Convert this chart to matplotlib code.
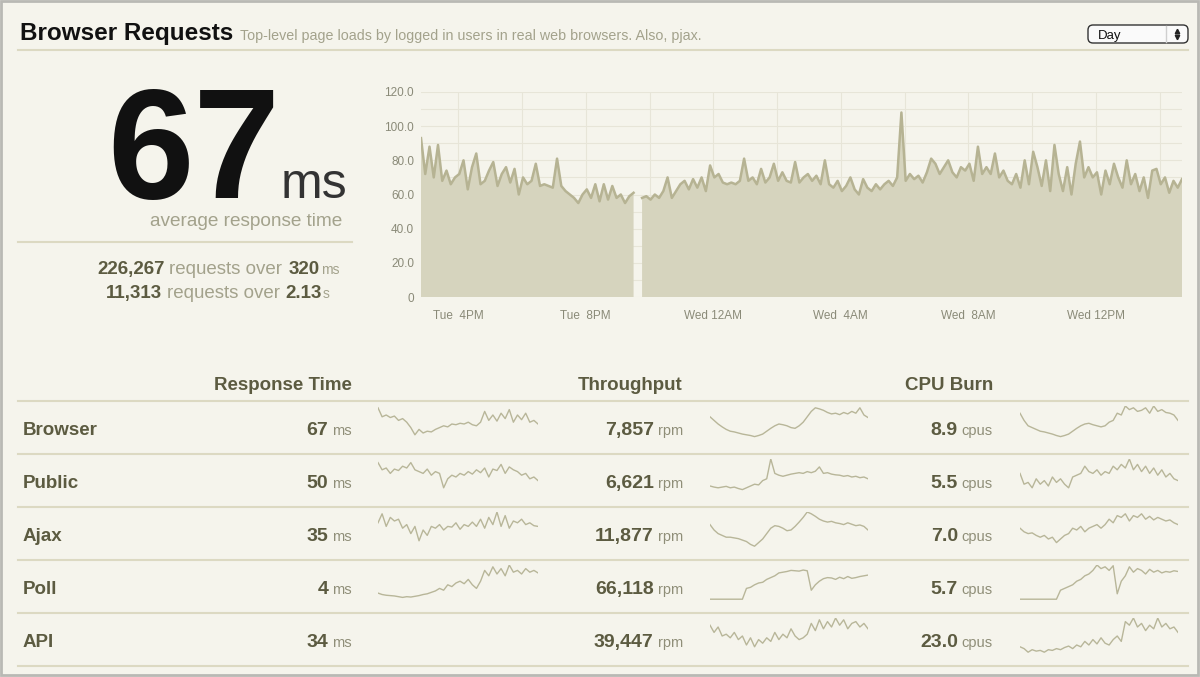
import numpy as np
import matplotlib.pyplot as plt
from matplotlib.patches import FancyBboxPatch, Rectangle

W, H = 1200, 677
BG = '#f5f4ec'
OLIVE = '#5c5b41'
UNIT = '#8f8e78'
SUB = '#a3a28c'
RULE = '#dcd9c2'
FILL = '#d6d4be'
LINE = '#b6b393'
SPARK = '#b8b699'

plt.rcParams['font.family'] = ['Liberation Sans', 'DejaVu Sans']

nan = float('nan')
# response time in ms, one value every 8 minutes from Tue 2:50PM to Wed 2:50PM
rt_day = [
    93, 72, 88, 70, 89, 68, 74, 66, 70, 72, 80, 63, 76, 84, 66,
    68, 74, 79, 65, 72, 76, 67, 75, 60, 70, 66, 68, 78, 65, 66,
    65, 64, 81, 65, 62, 60, 58, 55, 60, 63, 58, 66, 56, 66, 57,
    65, 58, 60, 55, 59, 61, nan, 58, 59, 57, 60, 58, 62, 70, 58,
    62, 66, 68, 63, 69, 64, 70, 62, 77, 70, 72, 67, 66, 67, 66,
    68, 81, 68, 70, 66, 75, 67, 70, 78, 68, 73, 68, 67, 79, 67,
    70, 72, 68, 71, 66, 80, 66, 64, 68, 62, 65, 70, 63, 60, 69,
    64, 62, 66, 63, 66, 68, 65, 70, 108, 68, 72, 69, 71, 67, 73,
    81, 78, 72, 76, 80, 73, 70, 76, 74, 78, 68, 88, 72, 76, 72,
    84, 70, 74, 68, 66, 72, 64, 80, 66, 85, 76, 65, 80, 62, 89,
    72, 62, 76, 60, 78, 91, 70, 76, 70, 73, 60, 74, 66, 78, 70,
    64, 80, 66, 72, 62, 70, 58, 74, 75, 66, 70, 61, 68, 64, 69,
]
start_hour = 14 + 50 / 60
step_hour = 8 / 60
hour_ticks = [16, 20, 24, 28, 32, 36]
hour_labels = ['Tue  4PM', 'Tue  8PM', 'Wed 12AM', 'Wed  4AM', 'Wed  8AM', 'Wed 12PM']
y_ticks = [0, 20, 40, 60, 80, 100, 120]
y_labels = ['0', '20.0', '40.0', '60.0', '80.0', '100.0', '120.0']

rows = ['Browser', 'Public', 'Ajax', 'Poll', 'API']
rt_ms = ['67', '50', '35', '4', '34']
tp_rpm = ['7,857', '6,621', '11,877', '66,118', '39,447']
cpu_used = ['8.9', '5.5', '7.0', '5.7', '23.0']

spark_rt = [
    [95, 70, 75, 68, 72, 60, 65, 55, 40, 20, 35, 25, 30, 28, 35, 40, 45, 42, 50, 48,
     52, 50, 55, 48, 45, 55, 85, 60, 75, 58, 80, 65, 90, 55, 75, 62, 80, 55, 60, 50],
    [90, 70, 75, 60, 72, 68, 80, 75, 90, 70, 65, 60, 72, 55, 65, 60, 20, 45, 55, 50,
     60, 55, 65, 58, 70, 62, 75, 50, 72, 68, 85, 60, 78, 70, 65, 55, 60, 45, 50, 40],
    [70, 95, 60, 85, 75, 80, 55, 65, 40, 60, 20, 50, 35, 60, 55, 65, 50, 60, 58, 70,
     52, 65, 60, 72, 60, 80, 55, 85, 65, 100, 60, 90, 55, 75, 70, 80, 65, 70, 62, 60],
    [22, 18, 16, 15, 14, 12, 10, 12, 11, 13, 15, 18, 20, 24, 28, 35, 30, 45, 40, 50,
     55, 48, 60, 45, 35, 55, 85, 70, 95, 75, 90, 70, 100, 80, 85, 75, 90, 80, 85, 78],
    None,
]
spark_tp = [
    [70, 60, 50, 42, 35, 30, 28, 25, 22, 20, 18, 15, 18, 22, 30, 38, 45, 50, 48, 45,
     40, 38, 45, 55, 70, 85, 95, 92, 88, 82, 78, 80, 76, 82, 78, 85, 80, 95, 75, 68],
    [25, 22, 20, 22, 24, 20, 22, 18, 15, 20, 25, 30, 28, 40, 45, 100, 60, 55, 52, 55,
     58, 60, 62, 60, 65, 62, 66, 78, 60, 62, 58, 56, 55, 52, 54, 50, 52, 48, 50, 45],
    [65, 50, 40, 35, 30, 30, 28, 26, 22, 18, 10, 5, 15, 25, 40, 55, 62, 60, 55, 48,
     50, 60, 72, 85, 100, 95, 88, 80, 75, 72, 74, 70, 68, 65, 70, 66, 62, 64, 60, 50],
    [5, 5, 5, 5, 5, 5, 5, 5, 5, 35, 38, 45, 50, 52, 60, 65, 70, 78, 80, 82,
     85, 84, 83, 86, 84, 30, 45, 55, 62, 65, 64, 60, 66, 62, 68, 63, 65, 68, 70, 72],
    [80, 60, 75, 50, 55, 45, 60, 40, 50, 25, 45, 20, 40, 30, 45, 35, 60, 40, 55, 45,
     70, 50, 40, 45, 55, 85, 65, 95, 70, 90, 75, 100, 80, 95, 70, 85, 90, 75, 85, 70],
]
spark_cpu = [
    [80, 60, 45, 40, 35, 30, 28, 25, 22, 18, 15, 18, 22, 30, 38, 45, 50, 52, 48, 45,
     42, 45, 55, 60, 80, 75, 100, 90, 95, 85, 88, 95, 80, 100, 85, 90, 82, 80, 75, 60],
    [60, 30, 35, 20, 45, 30, 40, 25, 50, 35, 45, 30, 20, 50, 55, 60, 80, 65, 60, 70,
     55, 65, 60, 80, 70, 85, 75, 100, 70, 85, 65, 80, 60, 75, 55, 70, 50, 60, 45, 40],
    [55, 45, 40, 42, 35, 30, 35, 25, 30, 15, 25, 35, 40, 55, 50, 60, 45, 55, 60, 65,
     55, 65, 80, 70, 90, 85, 95, 75, 90, 85, 95, 80, 88, 78, 85, 80, 75, 78, 70, 65],
    [5, 5, 5, 5, 5, 5, 5, 5, 5, 5, 30, 35, 40, 45, 55, 60, 70, 75, 85, 100,
     90, 95, 85, 98, 20, 55, 70, 95, 80, 90, 85, 75, 88, 80, 85, 78, 82, 80, 84, 82],
    [20, 15, 5, 12, 8, 10, 5, 12, 10, 15, 12, 18, 22, 15, 25, 20, 35, 25, 40, 28,
     45, 30, 25, 40, 50, 35, 90, 80, 100, 75, 85, 65, 80, 70, 100, 75, 85, 70, 75, 60],
]


def px(x0, y0, x1, y1):
    # pixel box (top-left origin) -> figure fraction rect
    return [x0 / W, 1 - y1 / H, (x1 - x0) / W, (y1 - y0) / H]


def right_chain(ax, x, y, pieces):
    # pieces listed left to right: (text, size, weight, color, gap_before_px)
    # the last piece ends at x, the others are hung to its left
    prev = None
    gap = 0
    for text, size, weight, color, gap_before in reversed(pieces):
        if prev is None:
            prev = ax.text(x, y, text, fontsize=size, fontweight=weight, color=color,
                           ha='right', va='baseline')
        else:
            prev = ax.annotate(text, xy=(0, y), xycoords=(prev, 'data'),
                               xytext=(-gap * 0.72, 0), textcoords='offset points',
                               fontsize=size, fontweight=weight, color=color,
                               ha='right', va='baseline')
        gap = gap_before
    return prev


fig = plt.figure(figsize=(W / 100, H / 100), dpi=100, facecolor=BG)
bg = fig.add_axes([0, 0, 1, 1])
bg.set_xlim(0, W)
bg.set_ylim(H, 0)
bg.axis('off')

bg.add_patch(Rectangle((1, 1), W - 3, H - 3, fill=False, edgecolor='#b9b9b4', lw=2))

# header
t = bg.text(20, 40, 'Browser Requests', fontsize=17.5, fontweight='bold', color='#111111',
            va='baseline')
bg.annotate('Top-level page loads by logged in users in real web browsers. Also, pjax.',
            xy=(1, 40), xycoords=(t, 'data'), xytext=(5, 0), textcoords='offset points',
            fontsize=10.3, color=SUB, va='baseline')
bg.plot([18, 1188], [50, 50], color=RULE, lw=1.5)

drop = FancyBboxPatch((1088, 25), 100, 18, boxstyle='round,pad=0,rounding_size=5',
                      facecolor='#fafafa', edgecolor='#333333', lw=1)
bg.add_patch(drop)
bg.plot([1166, 1166], [26, 42], color='#cfcfcf', lw=1)
bg.text(1098, 38.5, 'Day', fontsize=9.5, color='#111111', va='baseline')
bg.plot([1177], [31], marker='^', color='#222222', markersize=3.2)
bg.plot([1177], [37], marker='v', color='#222222', markersize=3.2)

# big number
right_chain(bg, 347, 198, [('67', 112, 'bold', '#111111', 0),
                           ('ms', 36, 'normal', '#333333', 0)])
bg.text(342, 226, 'average response time', fontsize=13.7, color=SUB, ha='right',
        va='baseline')
bg.plot([18, 352], [242, 242], color=RULE, lw=1.5)
right_chain(bg, 340, 274, [('226,267', 13.5, 'bold', OLIVE, 0),
                           ('requests over', 13.5, 'normal', SUB, 5),
                           ('320', 13.5, 'bold', OLIVE, 6),
                           ('ms', 10, 'normal', SUB, 2)])
right_chain(bg, 330, 298, [('11,313', 13.5, 'bold', OLIVE, 0),
                           ('requests over', 13.5, 'normal', SUB, 5),
                           ('2.13', 13.5, 'bold', OLIVE, 6),
                           ('s', 10, 'normal', SUB, 1)])

# main area chart
hours = start_hour + step_hour * np.arange(len(rt_day))
vals = np.array(rt_day, dtype=float)
ax = fig.add_axes(px(421, 92, 1182, 297))
ax.set_facecolor('none')
ax.fill_between(hours, vals, 0, color=FILL, lw=0, zorder=2)
ax.plot(hours, vals, color=LINE, lw=1.8, zorder=3)
ax.set_xlim(hours[0], hours[-1])
ax.set_ylim(0, 120)
ax.set_yticks(y_ticks, y_labels)
ax.set_yticks(np.arange(0, 121, 10), minor=True)
ax.set_xticks(hour_ticks, hour_labels)
ax.set_xticks(np.arange(16, 39, 2), minor=True)
ax.grid(True, which='both', color='#e7e5d8', lw=0.8, zorder=0)
ax.tick_params(which='both', length=0, labelsize=8.5, labelcolor='#8a8a78')
ax.tick_params(axis='x', pad=9)
ax.tick_params(axis='y', pad=5)
for s in ax.spines.values():
    s.set_visible(False)

# table
for hx, label in [(352, 'Response Time'), (683, 'Throughput'), (993, 'CPU Burn')]:
    bg.text(hx, 390, label, fontsize=13.5, fontweight='bold', color=OLIVE, ha='right',
            va='baseline')
row_tops = [401, 454, 507, 560, 613]
for y in row_tops + [666]:
    bg.plot([18, 1188], [y, y], color=RULE, lw=1.5)

for i, name in enumerate(rows):
    top = row_tops[i]
    base = top + 34
    bg.text(23, base, name, fontsize=13.5, fontweight='bold', color=OLIVE, va='baseline')
    right_chain(bg, 352, base, [(rt_ms[i], 14, 'bold', OLIVE, 0),
                                ('ms', 10.5, 'normal', UNIT, 4)])
    right_chain(bg, 683, base, [(tp_rpm[i], 14, 'bold', OLIVE, 0),
                                ('rpm', 10.5, 'normal', UNIT, 4)])
    right_chain(bg, 993, base, [(cpu_used[i], 14, 'bold', OLIVE, 0),
                                ('cpus', 10.5, 'normal', UNIT, 4)])
    for x0, x1, series in [(378, 538, spark_rt[i]), (710, 868, spark_tp[i]),
                           (1020, 1178, spark_cpu[i])]:
        if series is None:
            continue
        sp = fig.add_axes(px(x0, top + 5, x1, top + 41))
        sp.plot(np.arange(len(series)), series, color=SPARK, lw=1)
        sp.set_xlim(0, len(series) - 1)
        sp.set_ylim(0, 100)
        sp.axis('off')

fig.savefig('out.png', dpi=100, facecolor=BG)
